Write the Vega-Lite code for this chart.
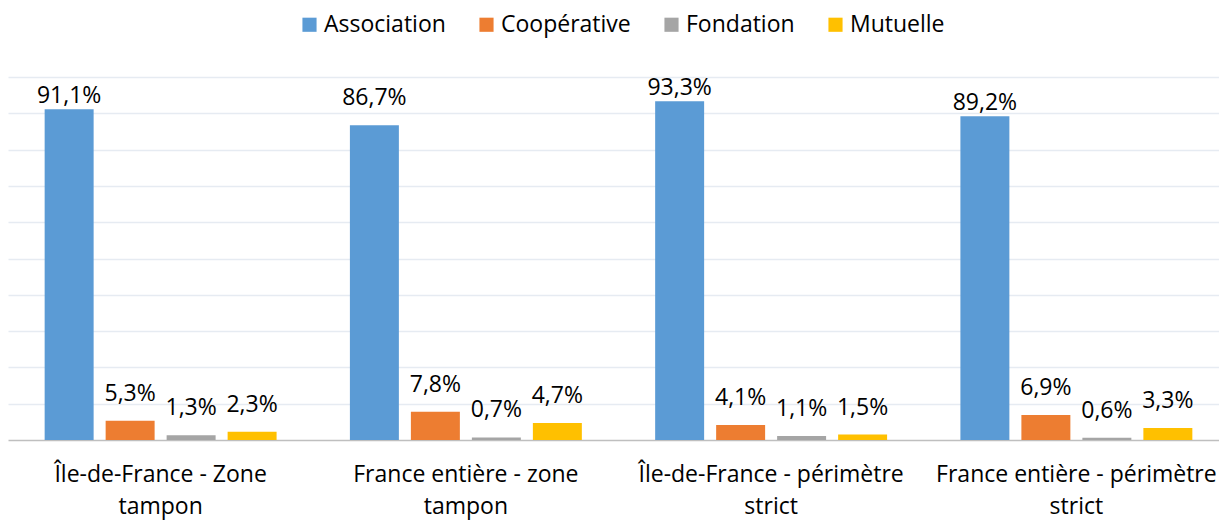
{
  "$schema": "https://vega.github.io/schema/vega-lite/v6.json",
  "width": 1211,
  "height": 363,
  "autosize": {"type": "none"},
  "padding": {"left": 8, "top": 77, "right": 0, "bottom": 80},
  "config": {
    "locale": {"number": {"decimal": ",", "thousands": " ", "grouping": [3], "currency": ["", " €"]}},
    "view": {"stroke": null},
    "font": "Open Sans"
  },
  "data": {
    "values": [
      {"zone": "Île-de-France - Zone tampon", "type": "Association", "value": 0.911},
      {"zone": "Île-de-France - Zone tampon", "type": "Coopérative", "value": 0.053},
      {"zone": "Île-de-France - Zone tampon", "type": "Fondation", "value": 0.013},
      {"zone": "Île-de-France - Zone tampon", "type": "Mutuelle", "value": 0.023},
      {"zone": "France entière - zone tampon", "type": "Association", "value": 0.867},
      {"zone": "France entière - zone tampon", "type": "Coopérative", "value": 0.078},
      {"zone": "France entière - zone tampon", "type": "Fondation", "value": 0.007},
      {"zone": "France entière - zone tampon", "type": "Mutuelle", "value": 0.047},
      {"zone": "Île-de-France - périmètre strict", "type": "Association", "value": 0.933},
      {"zone": "Île-de-France - périmètre strict", "type": "Coopérative", "value": 0.041},
      {"zone": "Île-de-France - périmètre strict", "type": "Fondation", "value": 0.011},
      {"zone": "Île-de-France - périmètre strict", "type": "Mutuelle", "value": 0.015},
      {"zone": "France entière - périmètre strict", "type": "Association", "value": 0.892},
      {"zone": "France entière - périmètre strict", "type": "Coopérative", "value": 0.069},
      {"zone": "France entière - périmètre strict", "type": "Fondation", "value": 0.006},
      {"zone": "France entière - périmètre strict", "type": "Mutuelle", "value": 0.033}
    ]
  },
  "encoding": {
    "x": {
      "field": "zone",
      "type": "nominal",
      "sort": ["Île-de-France - Zone tampon", "France entière - zone tampon", "Île-de-France - périmètre strict", "France entière - périmètre strict"],
      "scale": {"range": [0, 1221], "paddingInner": 0, "paddingOuter": 0},
      "axis": {
        "title": null,
        "ticks": false,
        "labelAngle": 0,
        "labelLimit": 0,
        "labelFontSize": 23,
        "labelColor": "#000000",
        "labelPadding": 23,
        "labelLineHeight": 32,
        "domainColor": "#bfbfbf",
        "domainWidth": 1.5,
        "labelExpr": "datum.value == 'Île-de-France - Zone tampon' ? ['Île-de-France - Zone', 'tampon'] : datum.value == 'France entière - zone tampon' ? ['France entière - zone', 'tampon'] : datum.value == 'Île-de-France - périmètre strict' ? ['Île-de-France - périmètre', 'strict'] : ['France entière - périmètre', 'strict']"
      }
    },
    "xOffset": {
      "field": "type",
      "type": "nominal",
      "sort": ["Association", "Coopérative", "Fondation", "Mutuelle"],
      "scale": {"paddingInner": 0.197, "paddingOuter": 0.601}
    },
    "y": {
      "field": "value",
      "type": "quantitative",
      "scale": {"domain": [0, 1]},
      "axis": {
        "title": null,
        "labels": false,
        "ticks": false,
        "domain": false,
        "values": [0.1, 0.2, 0.3, 0.4, 0.5, 0.6, 0.7, 0.8, 0.9, 1.0],
        "gridColor": "#e6ebf2",
        "gridWidth": 1.3
      }
    }
  },
  "layer": [
    {
      "mark": {"type": "bar"},
      "encoding": {
        "color": {
          "field": "type",
          "type": "nominal",
          "sort": ["Association", "Coopérative", "Fondation", "Mutuelle"],
          "scale": {"domain": ["Association", "Coopérative", "Fondation", "Mutuelle"], "range": ["#5b9bd5", "#ed7d31", "#a5a5a5", "#ffc000"]},
          "legend": {
            "orient": "none",
            "legendX": 290,
            "legendY": -64,
            "direction": "horizontal",
            "title": null,
            "symbolType": "square",
            "symbolSize": 200,
            "symbolStrokeWidth": 0,
            "labelFontSize": 23,
            "labelColor": "#000000",
            "labelOffset": 3,
            "columnPadding": 29
          }
        }
      }
    },
    {
      "transform": [{"filter": "datum.value > 0.88"}],
      "mark": {"type": "text", "baseline": "alphabetic", "dy": -6, "fontSize": 23, "color": "#000000"},
      "encoding": {
        "text": {"field": "value", "type": "quantitative", "format": ".1%"}
      }
    },
    {
      "transform": [{"filter": "datum.value <= 0.88"}],
      "mark": {"type": "text", "baseline": "alphabetic", "dy": -20, "fontSize": 23, "color": "#000000"},
      "encoding": {
        "text": {"field": "value", "type": "quantitative", "format": ".1%"}
      }
    }
  ]
}
